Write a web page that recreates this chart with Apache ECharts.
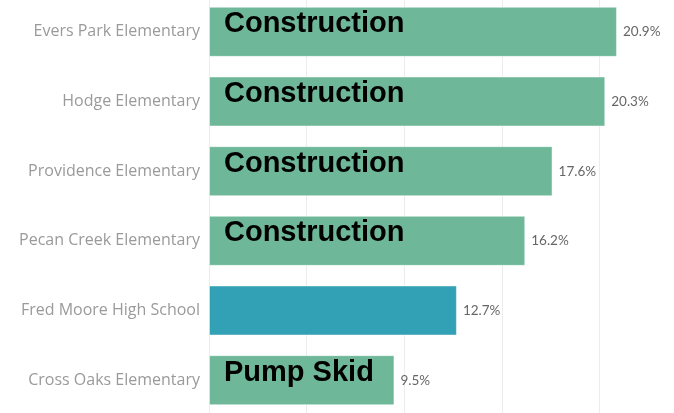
<!DOCTYPE html>
<html>
<head>
<meta charset="utf-8">
<script src="https://cdn.jsdelivr.net/npm/echarts@6/dist/echarts.min.js"></script>
<style>
  html, body { margin: 0; padding: 0; background: #fff; }
  #main { width: 674px; height: 413px; }
</style>
</head>
<body>
<div id="main"></div>
<script>
var schools = ['Evers Park Elementary', 'Hodge Elementary', 'Providence Elementary',
    'Pecan Creek Elementary', 'Fred Moore High School', 'Cross Oaks Elementary'];
var shares = [20.9, 20.3, 17.6, 16.2, 12.7, 9.5];
var projects = ['Construction', 'Construction', 'Construction', 'Construction', '', 'Pump Skid'];
var xTicks = [0, 5, 10, 15, 20, 25];

var green = '#6eb899';
var teal = '#32a0b5';

var myChart = echarts.init(document.getElementById('main'));
var option = {
    backgroundColor: '#fff',
    animation: false,
    grid: { left: 209, right: -23, top: -3, bottom: -2, outerBoundsMode: 'none' },
    xAxis: {
        type: 'value',
        min: xTicks[0],
        max: xTicks[xTicks.length - 1],
        interval: xTicks[1] - xTicks[0],
        axisLabel: { show: false },
        axisLine: { show: false },
        axisTick: { show: false },
        splitLine: { lineStyle: { color: '#ececec', width: 1 } }
    },
    yAxis: {
        type: 'category',
        inverse: true,
        data: schools,
        axisLine: { show: false },
        axisTick: { show: false },
        axisLabel: {
            color: '#9a9a9a',
            fontFamily: 'Open Sans',
            fontSize: 16,
            margin: 9,
            padding: [3, 0, 0, 0]
        }
    },
    series: [{
        type: 'bar',
        data: shares,
        barWidth: 50,
        itemStyle: {
            color: function (p) { return projects[p.dataIndex] ? green : teal; },
            borderColor: 'rgba(255,255,255,0.45)',
            borderWidth: 1
        },
        label: {
            show: true,
            position: 'right',
            distance: 6,
            color: '#666',
            fontFamily: 'Lato',
            fontSize: 13.5,
            formatter: function (p) { return p.value.toFixed(1) + '%'; }
        }
    }, {
        // project name written over each bar
        type: 'bar',
        data: shares,
        barWidth: 50,
        barGap: '-100%',
        silent: true,
        itemStyle: { color: 'rgba(0,0,0,0)' },
        label: {
            show: true,
            position: 'insideLeft',
            offset: [10, -7.5],
            color: '#000',
            fontFamily: 'Liberation Sans, Arial',
            fontWeight: 'bold',
            fontSize: 29,
            formatter: function (p) { return projects[p.dataIndex]; }
        }
    }]
};
myChart.setOption(option);
</script>
</body>
</html>
